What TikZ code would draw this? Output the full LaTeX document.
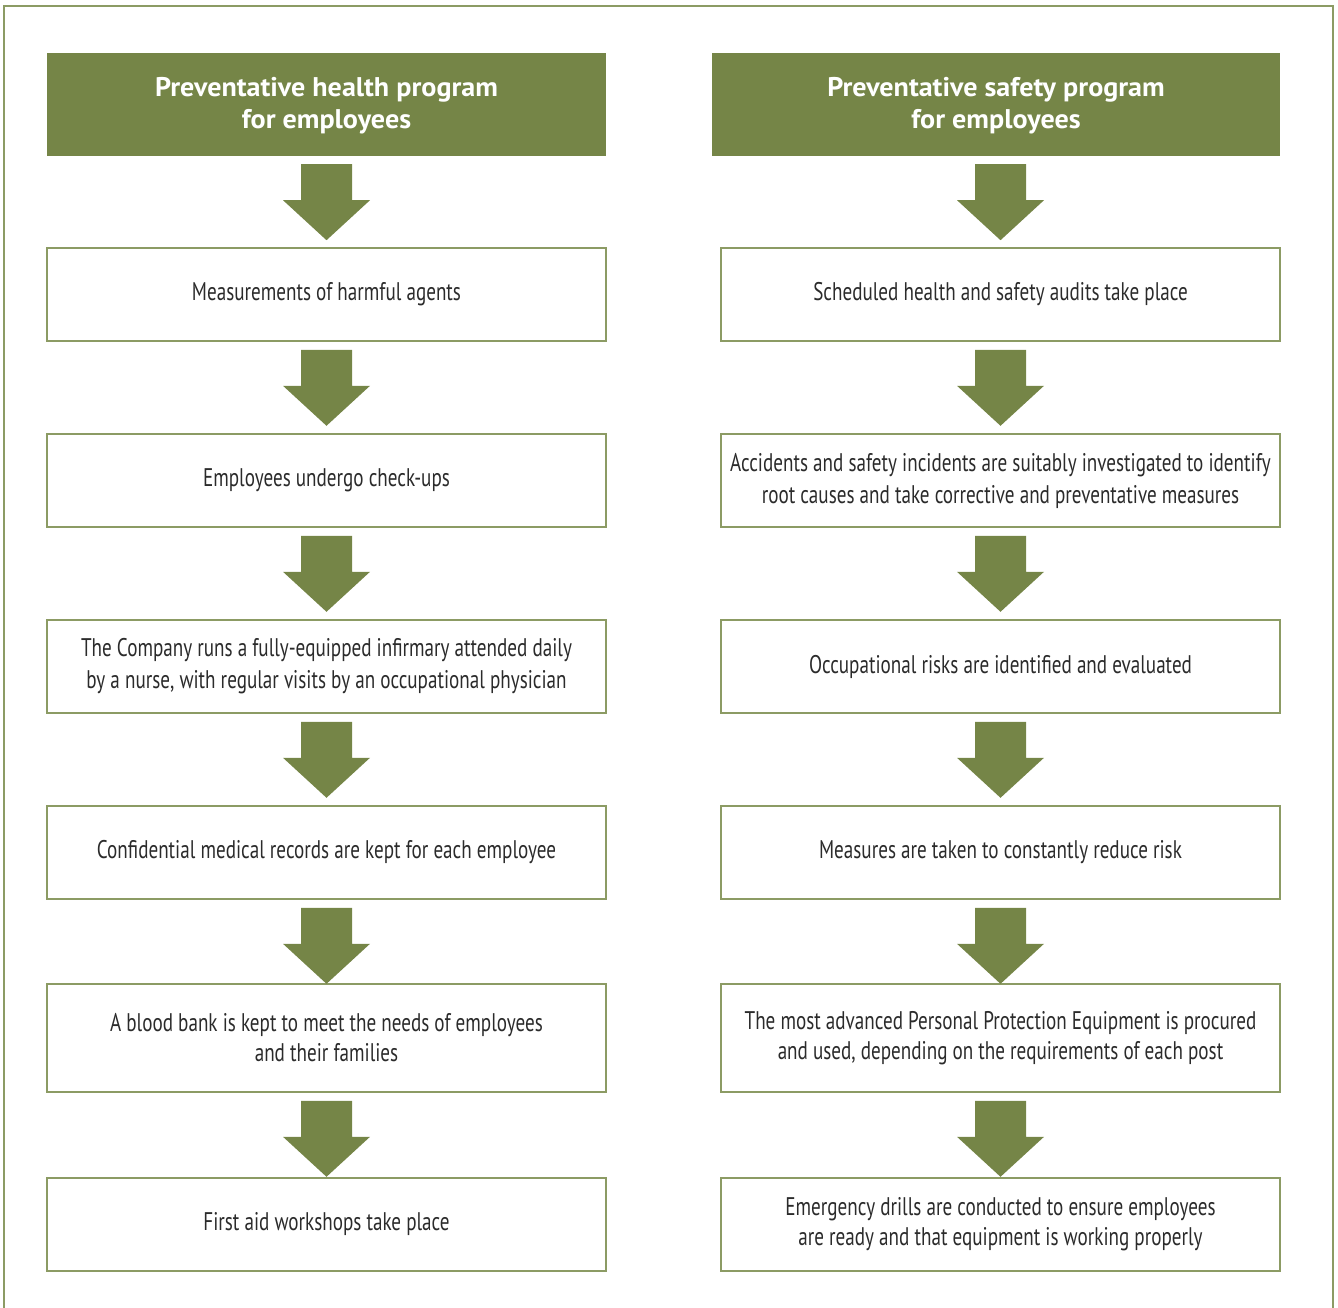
\documentclass[tikz,border=0pt]{standalone}
\usepackage{fontspec}
\setmainfont{PT Sans}[FakeStretch=0.75]
\newfontfamily\headfont{PT Sans}[FakeStretch=1.04]
\usetikzlibrary{calc}
\definecolor{olive}{HTML}{758547}
\definecolor{boxline}{HTML}{8C9B64}
\definecolor{txt}{HTML}{2B2B2B}
\tikzset{
  stepbox/.style={draw=boxline, line width=1.6pt, fill=white, minimum width=559pt, minimum height=93pt, align=center, text=txt, font=\fontsize{25.5}{32}\selectfont, inner sep=0pt},
  headbox/.style={fill=olive, minimum height=103pt, align=center, text=white, font=\headfont\bfseries\fontsize{27}{32}\selectfont, inner sep=0pt, text depth=0pt},
  arrowfill/.style={fill=olive}
}
\newcommand\flowarrow[1]{%
  \fill[arrowfill] ($(#1.south)+(-25.5,8)$) -- ($(#1.south)+(25.5,8)$) -- ($(#1.south)+(25.5,44)$) -- ($(#1.south)+(43.5,44)$) -- ($(#1.south)+(0,84)$) -- ($(#1.south)+(-43.5,44)$) -- ($(#1.south)+(-25.5,44)$) -- cycle;}
\begin{document}
\begin{tikzpicture}[x=1pt,y=-1pt]
\useasboundingbox (0,0) rectangle (1338,1307);
\draw[boxline, line width=1.6pt] (4,1330) -- (4,6) -- (1333,6) -- (1333,1330);
% left column
\node[headbox, minimum width=559pt] (lh) at (326.5,104.5) {};
\node[text=white, font=\headfont\bfseries\fontsize{27}{32}\selectfont, align=center] (lht) at (326.5,106) {Preventative health program\\for employees};
\node[stepbox] (l1) at (326.5,294.5) {Measurements of harmful agents};
\node[stepbox] (l2) at (326.5,480.5) {Employees undergo check-ups};
\node[stepbox] (l3) at (326.5,666.5) {The Company runs a fully-equipped infirmary attended daily\\by a nurse, with regular visits by an occupational physician};
\node[stepbox] (l4) at (326.5,852.5) {Confidential medical records are kept for each employee};
\node[stepbox, minimum height=108pt, font=\fontsize{25.5}{30}\selectfont] (l5) at (326.5,1038) {A blood bank is kept to meet the needs of employees\\and their families};
\node[stepbox] (l6) at (326.5,1224.5) {First aid workshops take place};
% right column
\node[headbox, minimum width=568pt] (rh) at (996,104.5) {};
\node[text=white, font=\headfont\bfseries\fontsize{27}{32}\selectfont, align=center] (rht) at (996,106) {Preventative safety program\\for employees};
\node[stepbox] (r1) at (1000.5,294.5) {Scheduled health and safety audits take place};
\node[stepbox] (r2) at (1000.5,480.5) {Accidents and safety incidents are suitably investigated to identify\\root causes and take corrective and preventative measures};
\node[stepbox] (r3) at (1000.5,666.5) {Occupational risks are identified and evaluated};
\node[stepbox] (r4) at (1000.5,852.5) {Measures are taken to constantly reduce risk};
\node[stepbox, minimum height=108pt, font=\fontsize{25.5}{30}\selectfont] (r5) at (1000.5,1038) {The most advanced Personal Protection Equipment is procured\\and used, depending on the requirements of each post};
\node[stepbox, font=\fontsize{25.5}{30}\selectfont] (r6) at (1000.5,1224.5) {Emergency drills are conducted to ensure employees\\are ready and that equipment is working properly};
% arrows
\flowarrow{lh}\flowarrow{l1}\flowarrow{l2}\flowarrow{l3}\flowarrow{l4}\flowarrow{l5}
\fill[arrowfill] ($(rh.south)+(4.5,0)+(-25.5,8)$) -- ($(rh.south)+(4.5,0)+(25.5,8)$) -- ($(rh.south)+(4.5,0)+(25.5,44)$) -- ($(rh.south)+(4.5,0)+(43.5,44)$) -- ($(rh.south)+(4.5,0)+(0,84)$) -- ($(rh.south)+(4.5,0)+(-43.5,44)$) -- ($(rh.south)+(4.5,0)+(-25.5,44)$) -- cycle;
\flowarrow{r1}\flowarrow{r2}\flowarrow{r3}\flowarrow{r4}\flowarrow{r5}
\end{tikzpicture}
\end{document}
